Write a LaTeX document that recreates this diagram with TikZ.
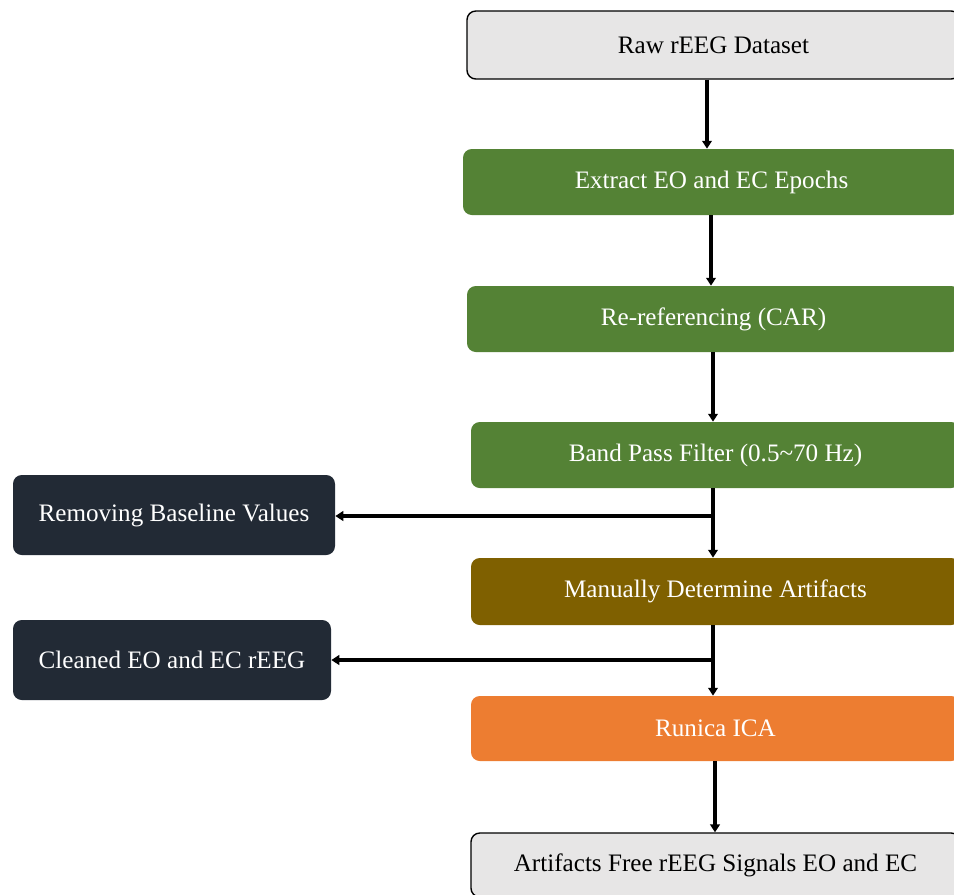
\documentclass[tikz,border=0pt]{standalone}
\usepackage{fontspec}
\setmainfont{Liberation Serif}
\usetikzlibrary{arrows.meta}
\definecolor{boxgray}{HTML}{E7E6E6}
\definecolor{boxgreen}{HTML}{548235}
\definecolor{boxbrown}{HTML}{7F6000}
\definecolor{boxorange}{HTML}{ED7D31}
\definecolor{boxnavy}{HTML}{222A35}
\begin{document}
\begin{tikzpicture}[x=0.02cm,y=-0.02cm,
  base/.style={rounded corners=5pt, inner sep=0pt, font=\fontsize{14.3}{17}\selectfont, align=center},
  graybox/.style={base, fill=boxgray, draw=black, line width=0.8pt, text=black},
  greenbox/.style={base, fill=boxgreen, text=white},
  brownbox/.style={base, fill=boxbrown, text=white},
  orangebox/.style={base, fill=boxorange, text=white},
  navybox/.style={base, fill=boxnavy, text=white},
  arr/.style={-{Triangle[length=4.5pt,width=5.5pt]}, line width=2pt, black},
  ln/.style={line width=2pt, black}]
\useasboundingbox (0,0) rectangle (954,894);
\clip (0,0) rectangle (954,894);
% main column
\node[graybox, minimum width=493*0.02cm, minimum height=68*0.02cm] (raw) at (713.5,45) {Raw rEEG Dataset};
\node[greenbox, minimum width=497*0.02cm, minimum height=66*0.02cm] (ext) at (711.5,182) {Extract EO and EC Epochs};
\node[greenbox, minimum width=493*0.02cm, minimum height=66*0.02cm] (car) at (713.5,319) {Re-referencing (CAR)};
\node[greenbox, minimum width=489*0.02cm, minimum height=66*0.02cm] (bpf) at (715.5,455) {Band Pass Filter (0.5\textasciitilde70 Hz)};
\node[brownbox, minimum width=489*0.02cm, minimum height=67*0.02cm] (man) at (715.5,591.5) {Manually Determine Artifacts};
\node[orangebox, minimum width=489*0.02cm, minimum height=65*0.02cm] (ica) at (715.5,728.5) {Runica ICA};
\node[graybox, minimum width=489*0.02cm, minimum height=64*0.02cm] (out) at (715.5,865) {Artifacts Free rEEG Signals EO and EC};
% side boxes
\node[navybox, minimum width=322*0.02cm, minimum height=80*0.02cm] (rbv) at (174,515) {Removing Baseline Values};
\node[navybox, minimum width=318*0.02cm, minimum height=80*0.02cm] (cln) at (172,660) {Cleaned EO and EC rEEG};
% connectors
\coordinate (j1) at (713,516);
\coordinate (j2) at (713,660);
\draw[arr] (raw.south -| 707,0) -- (ext.north -| 707,0);
\draw[arr] (ext.south -| 711,0) -- (car.north -| 711,0);
\draw[arr] (car.south -| 713,0) -- (bpf.north -| 713,0);
\draw[arr] (bpf.south -| j1) -- (man.north -| j1);
\draw[arr] (j1) -- (j1 -| rbv.east);
\draw[arr] (man.south -| j2) -- (ica.north -| j2);
\draw[arr] (j2) -- (j2 -| cln.east);
\draw[arr] (ica.south -| 715,0) -- (out.north -| 715,0);
\end{tikzpicture}
\end{document}
